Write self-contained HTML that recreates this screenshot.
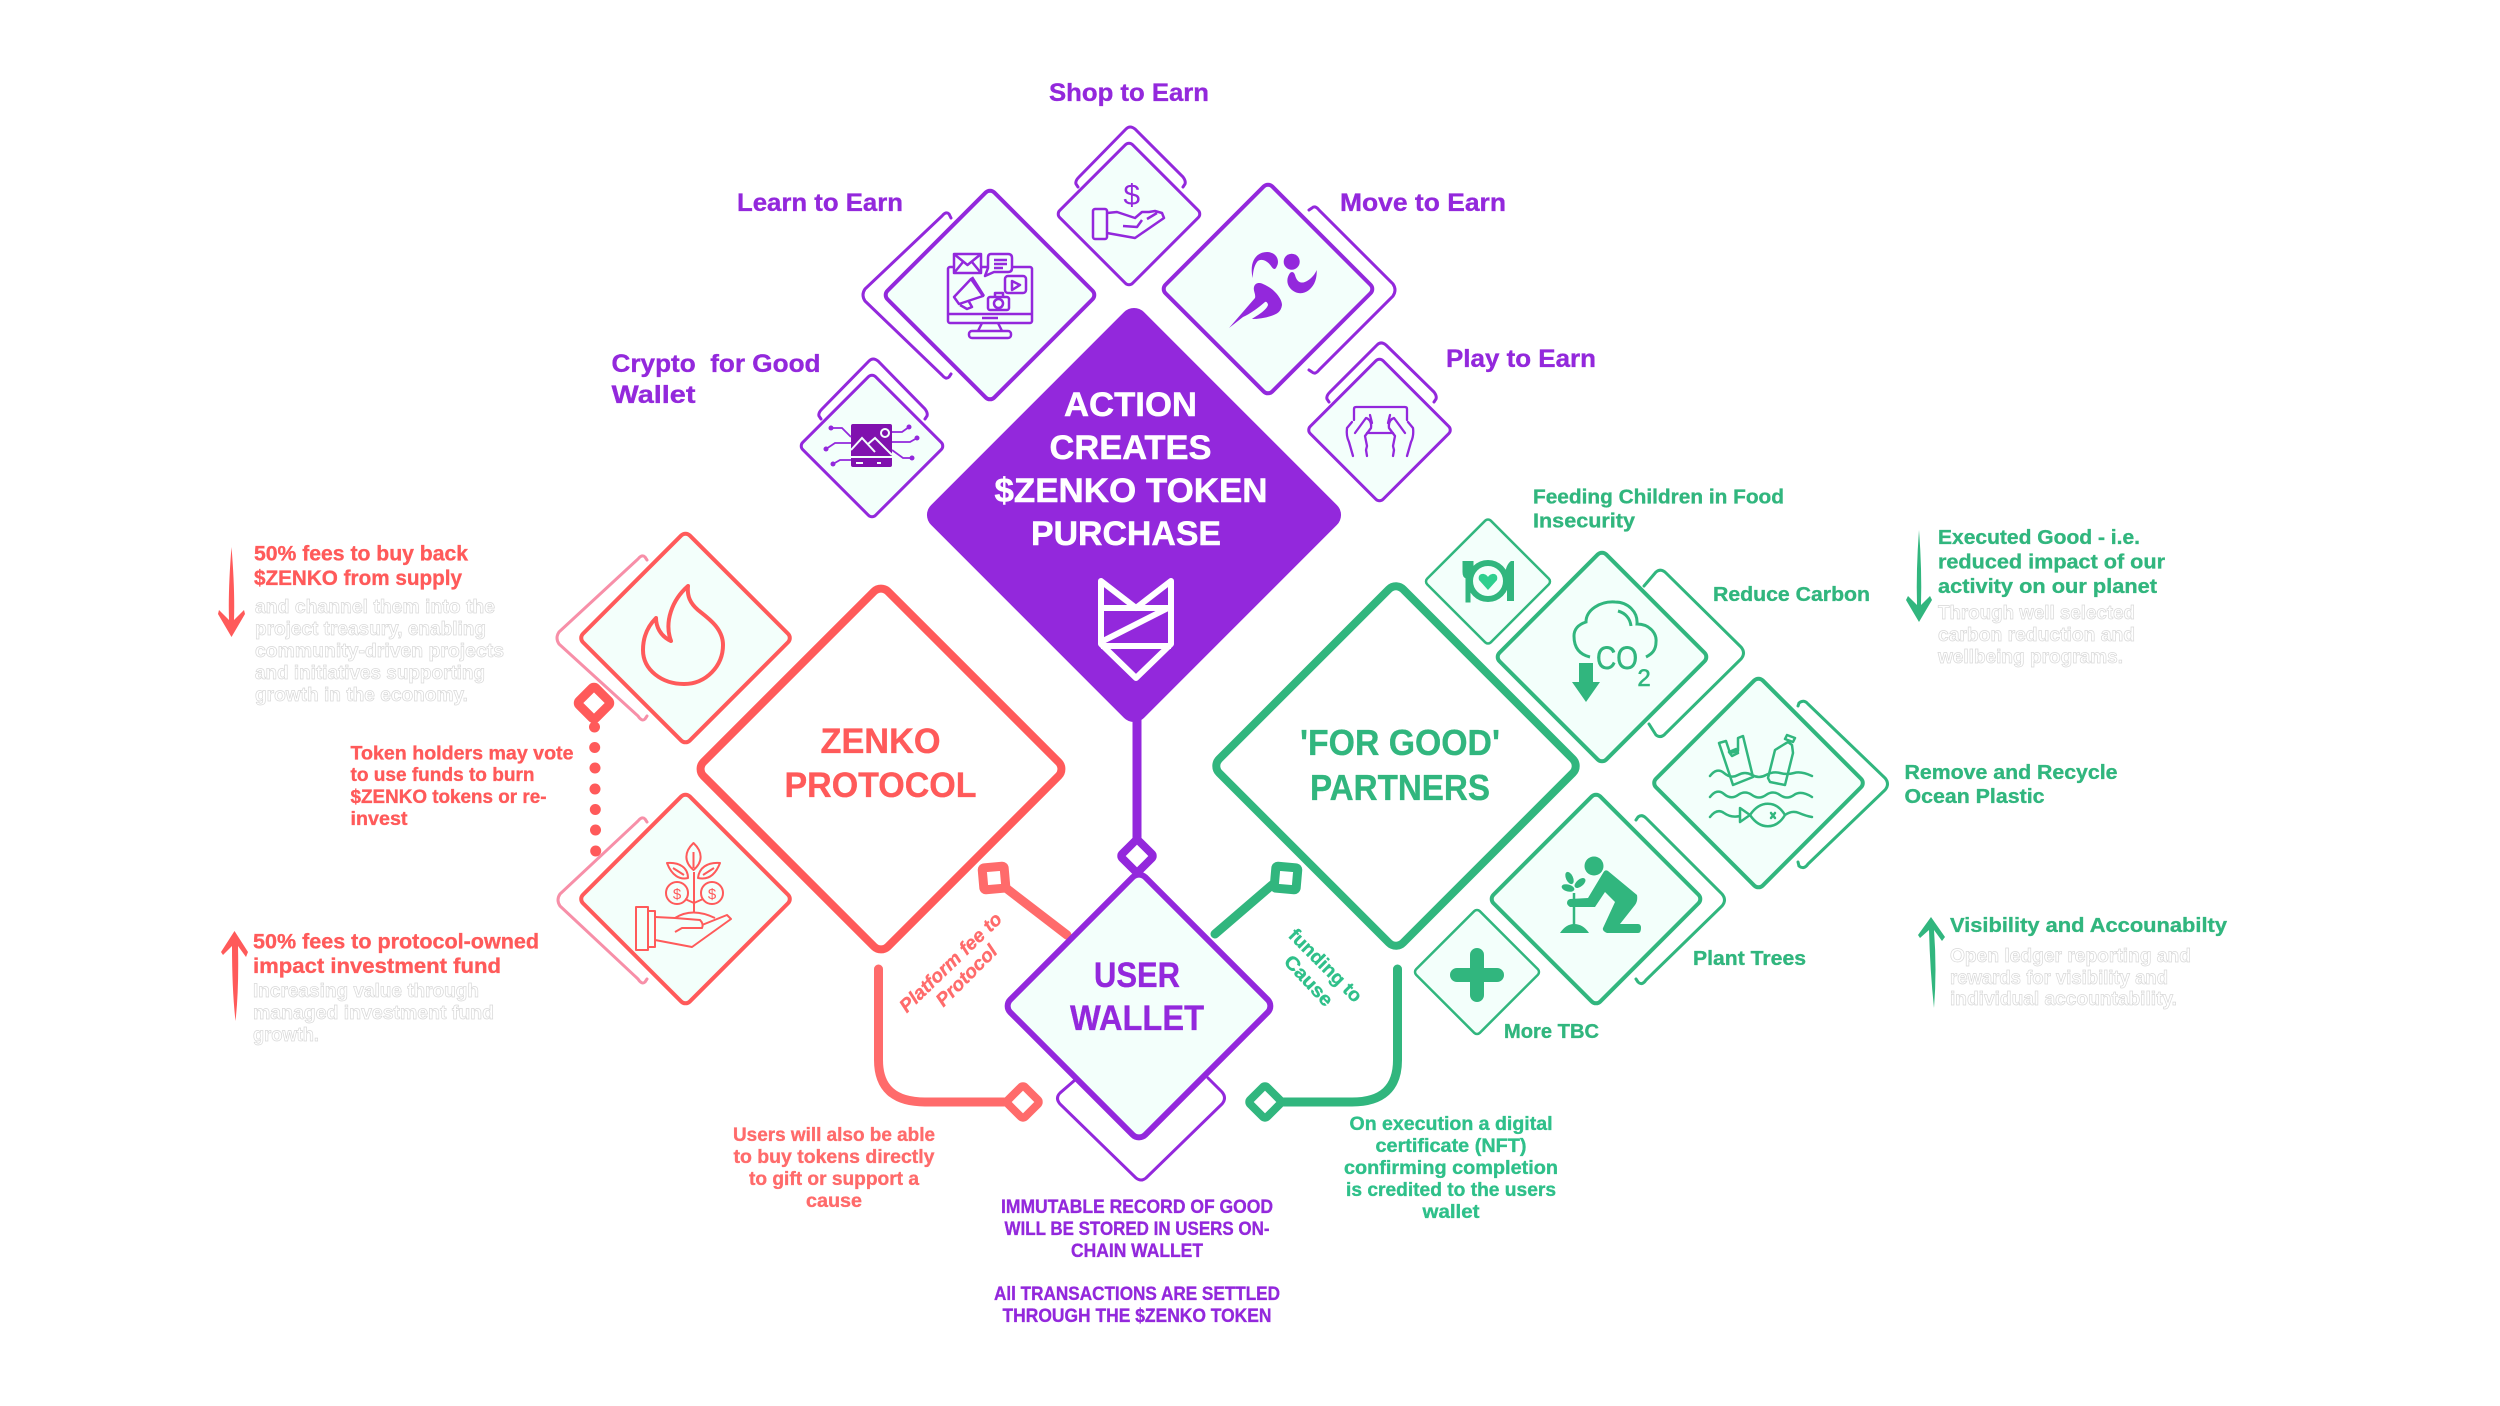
<!DOCTYPE html>
<html><head><meta charset="utf-8"><title>Zenko diagram</title>
<style>
html,body{margin:0;padding:0;background:#fff}
svg{display:block}
text{font-family:"Liberation Sans",sans-serif;font-weight:700}
.p{fill:#9328DC;stroke:#9328DC;stroke-width:.35}.r{fill:#FF5A5A;stroke:#FF5A5A;stroke-width:.35}.r2{fill:#FF6B6B;stroke:#FF6B6B;stroke-width:.35}.g{fill:#31B67E;stroke:#31B67E;stroke-width:.35}.g2{fill:#2FC08A;stroke:#2FC08A;stroke-width:.35}
.w{fill:#fff;stroke:#fff;stroke-width:.5}
.gh{fill:#fff;stroke:#d8d8d8;stroke-width:.7;font-weight:400;font-size:19px}
</style></head><body>
<svg width="2500" height="1406" viewBox="0 0 2500 1406" xmlns="http://www.w3.org/2000/svg">
<rect width="2500" height="1406" fill="#fff"/>

<!-- back outlines -->
<g fill="none" stroke-width="3" stroke-linecap="round">
<g stroke="#9328DC">
<path d="M951 218L949 214Q946 211 942 216L865 289Q861 295 865 301L942 375Q946 380 949 377L951 374"/>
<path d="M1309 210L1312 208Q1315 205 1319 210L1393 284Q1397 290 1393 296L1319 370Q1315 375 1312 372L1309 370"/>
<path d="M1078 187L1076 184Q1075 181 1079 177L1126 129Q1130 125 1135 129L1183 177Q1186 181 1185 184L1183 187"/>
<path d="M821 419L819 416Q818 413 822 409L869 361Q873 357 878 361L925 409Q928 413 927 416L925 419"/>
<path d="M1329 402L1327 399Q1326 396 1330 392L1377 345Q1381 341 1386 345L1434 392Q1437 396 1436 399L1434 402"/>
<path d="M1075 1080L1060 1093Q1055 1098 1060 1104L1136 1178Q1141 1182 1146 1178L1222 1104Q1227 1098 1222 1092L1208 1078"/>
</g>
<g stroke="#F78FA8">
<path d="M647 560L645 557Q642 554 638 559L559 632Q555 638 559 644L638 716Q642 722 645 719L647 716"/>
<path d="M647 822L645 819Q642 816 638 821L560 894Q556 900 560 906L638 979Q642 985 645 982L647 979"/>
</g>
<g stroke="#31B67E">
<path d="M1644 586L1656 572Q1661 568 1666 573L1741 647Q1746 653 1741 659L1666 733Q1661 739 1656 735L1649 724"/>
<path d="M1798 706L1799 703Q1804 699 1808 704L1885 778Q1890 784 1885 790L1808 864Q1804 870 1799 866L1798 862"/>
<path d="M1636 820L1638 817Q1642 814 1646 818L1722 894Q1727 900 1722 906L1646 980Q1642 986 1638 982L1636 979"/>
</g>
</g>

<!-- main diamond -->
<rect x="-150.500" y="-150.500" width="301" height="301" rx="14" transform="translate(1134 515) rotate(45)" fill="#9328DC"/>

<!-- connectors -->
<g fill="none" stroke-linecap="round">
<path d="M1137 715V880" stroke="#9328DC" stroke-width="9"/>
<path d="M1002 885L1067 935" stroke="#FF6B6B" stroke-width="9"/>
<path d="M1215 934L1272 885" stroke="#31B67E" stroke-width="9"/>
<path d="M878.500 969V1060Q878.500 1102 925 1102H1012" stroke="#FF6B6B" stroke-width="9"/>
<path d="M1397.500 969V1060Q1397.500 1102 1352 1102H1280" stroke="#31B67E" stroke-width="9"/>
</g>

<!-- big diamonds -->
<rect x="-130.500" y="-130.500" width="261" height="261" rx="10" transform="translate(881 769) rotate(45)" fill="#fff" stroke="#FF5A5A" stroke-width="8"/>
<rect x="-130" y="-130" width="260" height="260" rx="10" transform="translate(1396 766) rotate(45)" fill="#fff" stroke="#31B67E" stroke-width="8"/>
<rect x="-95.500" y="-95.500" width="191" height="191" rx="9" transform="translate(1139 1006) rotate(45)" fill="#F3FFFB" stroke="#9328DC" stroke-width="6"/>

<!-- icon diamonds -->
<g fill="#F3FFFB" stroke-width="4">
<g stroke="#9328DC">
<rect x="-75.500" y="-75.500" width="151" height="151" rx="6" transform="translate(990 295) rotate(45)"/>
<rect x="-75.500" y="-75.500" width="151" height="151" rx="6" transform="translate(1268 289) rotate(45)"/>
<rect x="-51.500" y="-51.500" width="103" height="103" rx="5" transform="translate(1129 214) rotate(45)" stroke-width="3"/>
<rect x="-51.500" y="-51.500" width="103" height="103" rx="5" transform="translate(872 446) rotate(45)" stroke-width="3"/>
<rect x="-51.500" y="-51.500" width="103" height="103" rx="5" transform="translate(1379.500 430) rotate(45)" stroke-width="3"/>
</g>
<g stroke="#FF5A5A">
<rect x="-75.500" y="-75.500" width="151" height="151" rx="6" transform="translate(685.500 638) rotate(45)"/>
<rect x="-75.500" y="-75.500" width="151" height="151" rx="6" transform="translate(685.500 899) rotate(45)"/>
</g>
<g stroke="#31B67E">
<rect x="-75.500" y="-75.500" width="151" height="151" rx="6" transform="translate(1602 657) rotate(45)"/>
<rect x="-75.500" y="-75.500" width="151" height="151" rx="6" transform="translate(1758.500 783) rotate(45)"/>
<rect x="-75.500" y="-75.500" width="151" height="151" rx="6" transform="translate(1596 899) rotate(45)"/>
<rect x="-45" y="-45" width="90" height="90" rx="4" transform="translate(1488 581.500) rotate(45)" stroke-width="2.500"/>
<rect x="-45" y="-45" width="90" height="90" rx="4" transform="translate(1477 972) rotate(45)" stroke-width="2.500"/>
</g>
</g>

<!-- markers -->
<g>
<rect x="-12" y="-12" width="24" height="24" rx="3" transform="translate(1137 856) rotate(45)" fill="#fff" stroke="#9328DC" stroke-width="8"/>
<rect x="-12" y="-12" width="24" height="24" rx="3" transform="translate(1023 1102) rotate(45)" fill="#fff" stroke="#FF6B6B" stroke-width="8"/>
<rect x="-12" y="-12" width="24" height="24" rx="3" transform="translate(1265 1102) rotate(45)" fill="#fff" stroke="#31B67E" stroke-width="8"/>
<rect x="-12" y="-12" width="24" height="24" rx="3" transform="translate(594 703) rotate(45)" fill="#fff" stroke="#FF5A5A" stroke-width="9"/>
<rect x="-11" y="-11" width="22" height="22" rx="2" transform="translate(994 878) rotate(-5)" fill="#fff" stroke="#FF6B6B" stroke-width="9"/>
<rect x="-11" y="-11" width="22" height="22" rx="2" transform="translate(1286 878) rotate(5)" fill="#fff" stroke="#31B67E" stroke-width="9"/>
</g>
<g fill="#FF5A5A">
<circle cx="594.500" cy="727" r="5.500"/><circle cx="594.700" cy="747.500" r="5.500"/><circle cx="595" cy="768" r="5.500"/><circle cx="595" cy="789" r="5.500"/><circle cx="595.300" cy="809.500" r="5.500"/><circle cx="595.500" cy="830" r="5.500"/><circle cx="595.700" cy="851" r="5.500"/>
</g>

<!-- side arrows -->
<path d="M231.500 547Q228 590 229 620L219 610 218 614 231.500 637 245 614 244 610 234 620Q235 590 231.500 547Z" fill="#FF5A5A"/>
<path d="M234.500 931L221 952 223 955 232 946Q232 990 235.500 1021Q239 990 238 946L246 957 248 952Z" fill="#FF5A5A"/>
<path d="M1925 530Q1922 570 1923 605L1914 596 1912 600 1925 622 1938 600 1936 596 1927 605Q1928 570 1925 530Z" fill="#31B67E" transform="translate(-6 0)"/>
<path d="M1931 917L1918 935 1920 938 1929 930Q1930 970 1934 1008Q1937 970 1934 930L1942 941 1945 937Z" fill="#31B67E"/>

<!-- logo -->
<g fill="none" stroke="#fff" stroke-width="6" stroke-linejoin="round">
<path d="M1101 581L1136 608 1171 581V644L1136 678 1101 644Z"/>
<path d="M1101 608H1171M1101 646H1171M1103 641L1168 608"/>
</g>

<!-- Learn -->
<g fill="none" stroke="#9328DC" stroke-width="2.500" stroke-linejoin="round">
<rect x="948" y="267" width="84" height="56" rx="2"/><path d="M948 314H1032M982 318H998M982 323L978 331M998 323L1002 331"/><rect x="969" y="331" width="42" height="7" rx="3"/>
<rect x="954" y="254" width="27" height="19" fill="#F3FFFB"/><path d="M954 254L967.500 265 981 254M954 273L963 262M981 273L972 262"/>
<path d="M991 254H1008Q1012 254 1012 258V268Q1012 272 1008 272H994L985 276 988 268V258Q988 254 991 254Z" fill="#F3FFFB"/><path d="M994 260H1007M994 264H1007M994 268H1003"/>
<rect x="1005" y="276" width="21" height="17" rx="3"/><path d="M1012 281L1020 285 1012 290Z"/>
<path d="M971 279L954 297 959 304 983 296Z"/><path d="M972 277L984 296M960 305L967 309 972 307 968 300"/>
<rect x="988" y="297" width="21" height="13" rx="2"/><circle cx="998.500" cy="303.500" r="4.500"/><path d="M995 297V293H1003V297"/>
</g>
<!-- Move runner -->
<g fill="#9328DC">
<circle cx="1291.700" cy="261.700" r="8"/>
<path d="M1252.700 278C1249 262 1256 252 1267 252C1276 252 1280 260 1277 266C1275 271 1273 269 1271 266C1267 260 1260 258 1257 262C1254 266 1253 272 1252.700 278Z"/>
<path d="M1290 273C1292 271 1294 272 1295 275C1297 283 1302 284 1307 281C1312 278 1315 274 1316.700 270C1317 278 1315 285 1309 290C1303 295 1295 294 1290 288C1286 283 1287 277 1290 273Z"/>
<path d="M1229 328L1255 298C1256 294 1253 291 1254 287C1255 283 1259 282 1263 284C1268 286 1272 289 1275 292C1279 296 1282 301 1282 305C1281 312 1277 314 1271 316C1265 318 1258 319 1252 319C1256 316 1266 311 1268 305C1268 303 1266 301 1265 302C1258 308 1250 314 1243 317Z"/>
</g>
<!-- Shop hand -->
<text x="1131.700" y="205" text-anchor="middle" style="font-size:30px;font-weight:400" fill="#9328DC">$</text>
<g fill="none" stroke="#9328DC" stroke-width="2.500" stroke-linejoin="round">
<rect x="1093" y="209" width="14" height="30" rx="2"/>
<path d="M1107 213L1117 212 1135 218 1142 212 1149 212 1155 211 1162 213 1164 218 1135 238 1107 233M1123 226L1137 227 1142 220M1147 219L1157 213"/>
</g>
<!-- Crypto -->
<rect x="851" y="424" width="41" height="43" rx="2" fill="#8011AE"/>
<g fill="none" stroke="#F3FFFB" stroke-width="2">
<path d="M851 450L862 438 875 452M868 444L875 438 892 455M851 457H892M856 463H863M877 463H881"/>
<circle cx="885" cy="433" r="4"/>
</g>
<g fill="none" stroke="#9328DC" stroke-width="1.800">
<path d="M851 437L842 428H831M851 443H835L826 449M851 460H840L833 464M892 432H902L909 427M892 442H910L917 438M892 450L903 458H912"/>
</g>
<g fill="#9328DC"><circle cx="831" cy="428" r="2.500"/><circle cx="826" cy="449" r="2.500"/><circle cx="833" cy="464" r="2.500"/><circle cx="909" cy="427" r="2.500"/><circle cx="917" cy="438" r="2.500"/><circle cx="912" cy="458" r="2.500"/></g>
<!-- Play -->
<g fill="none" stroke="#9328DC" stroke-width="2.300" stroke-linecap="round" stroke-linejoin="round">
<path d="M1354 420V409Q1354 407 1356 407H1405Q1407 407 1407 409V420M1367 433H1393"/>
<path d="M1352 422L1347 428Q1346 436 1349 442L1353 456M1355 433L1366 418Q1372 420 1371 428L1365 436 1367 446 1366 450 1367 456M1370 415L1372 423"/>
<path d="M1408 422L1413 428Q1414 436 1411 442L1407 456M1405 433L1394 418Q1388 420 1389 428L1395 436 1393 446 1394 450 1393 456M1390 415L1388 423"/>
</g>
<!-- Flame -->
<path d="M688 586C672 600 664 622 671 641C660 636 656 626 656 618C648 626 643 636 643 650C643 670 662 684 684 684C706 684 723 666 723 645C723 628 708 618 698 610C690 603 687 596 688 586Z" fill="none" stroke="#FF5A5A" stroke-width="4" stroke-linejoin="round"/>
<!-- Plant hand -->
<g fill="none" stroke="#FF5A5A" stroke-width="2" stroke-linejoin="round">
<rect x="636" y="907" width="12" height="43"/><rect x="648" y="911" width="7" height="36"/>
<path d="M693.500 843C684 852 684 862 693.500 870C703 862 703 852 693.500 843ZM693.500 852V868M667 863C672 876 680 880 688 878C688 868 680 862 667 863ZM720 863C715 876 707 880 698 878C699 868 707 862 720 863ZM673 868L684 875M714 868L703 875"/>
<path d="M694 872V912M685 899L694 903 703 899"/>
<circle cx="677" cy="893" r="11"/><circle cx="712" cy="893" r="11"/>
<path d="M655 917L675 918 700 920Q704 924 702 928L682 928 675 932M702 925L727 915 731 919 692 947 655 940M675 918Q692 907 715 918"/>
</g>
<text x="677" y="899" text-anchor="middle" style="font-size:15px;font-weight:400" fill="#FF5A5A">$</text>
<text x="712" y="899" text-anchor="middle" style="font-size:15px;font-weight:400" fill="#FF5A5A">$</text>
<!-- Food -->
<circle cx="1488" cy="581" r="18" fill="none" stroke="#31B67E" stroke-width="6"/>
<circle cx="1488" cy="581" r="11" fill="#F3FFFB"/>
<path d="M1488 590L1479 580C1477 573 1485 572 1488 577C1491 572 1499 573 1497 580Z" fill="#2FCF8F"/>
<path d="M1463 561V572Q1463 577 1466 578V602H1470V578Q1473 577 1473 572V561M1467 561V572" fill="#31B67E" stroke="#31B67E" stroke-width="1"/>
<path d="M1511 561C1504 566 1504 580 1507 586V601H1514V561Z" fill="#31B67E"/>
<!-- CO2 -->
<path d="M1590 657C1577 654 1574 645 1574 636C1574 628 1580 624 1586 622C1586 610 1600 601 1615 602C1628 602 1638 612 1637 624C1650 624 1657 634 1656 642C1656 650 1652 654 1646 657M1618 611C1625 613 1630 618 1631 626" fill="none" stroke="#31B67E" stroke-width="3"/>
<text x="1617" y="669" text-anchor="middle" textLength="42" lengthAdjust="spacingAndGlyphs" style="font-size:32px;font-weight:400" fill="#31B67E" stroke="#31B67E" stroke-width=".6">CO</text>
<text x="1644" y="686" text-anchor="middle" style="font-size:24px;font-weight:400" fill="#31B67E" stroke="#31B67E" stroke-width=".6">2</text>
<path d="M1579 663H1593V682H1600L1586 702 1572 682H1579Z" fill="#31B67E"/>
<!-- Ocean -->
<g fill="none" stroke="#31B67E" stroke-width="2.500" stroke-linejoin="round" stroke-linecap="round">
<path d="M1719 743L1726 741 1730 753 1738 751 1738 738 1743 736 1753 777 1733 785Z"/>
<path d="M1729 752L1736 749 1738 753 1732 756Z"/>
<path d="M1787 735L1795 738 1793 742 1785 739ZM1788 742L1792 745 1793 753 1785 785 1770 782 1768 778 1775 750 1783 745Z"/>
<path d="M1710 776Q1717 767 1724 773T1738 775T1752 775T1766 775T1780 773T1794 773T1812 776"/>
<path d="M1710 797Q1717 788 1724 794T1738 795T1752 795T1766 795T1780 795T1794 795T1812 797"/>
<path d="M1710 817Q1717 808 1724 813T1740 816M1740 808L1750 815 1740 822ZM1750 815C1760 800 1776 800 1785 815C1776 830 1760 830 1750 815ZM1785 815Q1792 810 1799 813T1812 817"/>
<path d="M1771 813L1775 818M1775 813L1771 818"/>
</g>
<!-- Tree person -->
<g fill="#31B67E">
<circle cx="1594" cy="866" r="9.500"/>
<path d="M1608 871L1637 895Q1638 901 1635 905L1620 924H1638Q1641 924 1641 928 1641 933 1638 933H1607Q1602 931 1603 928L1615 902 1605 892 1595 907H1570Q1567 905 1567 903 1567 900 1570 899L1588 898 1603 873Q1605 869 1608 871Z"/>
<path d="M1560 933Q1566 924 1574 924 1583 924 1589 933Z"/>
<ellipse cx="1569.500" cy="878" rx="3.500" ry="6.500" transform="rotate(-25 1569.500 878)"/><ellipse cx="1568" cy="888" rx="3.500" ry="6.500" transform="rotate(-75 1568 888)"/><ellipse cx="1580" cy="883" rx="3.500" ry="6.500" transform="rotate(50 1580 883)"/>
</g>
<path d="M1574 893V926" stroke="#31B67E" stroke-width="2.500"/>
<!-- plus -->
<path d="M1477 955V995M1457 975H1497" stroke="#31B67E" stroke-width="14" stroke-linecap="round"/>

<!-- Titles -->
<g font-size="25" class="p">
<text x="1049" y="101" textLength="160" lengthAdjust="spacingAndGlyphs">Shop to Earn</text>
<text x="737" y="211" textLength="166" lengthAdjust="spacingAndGlyphs">Learn to Earn</text>
<text x="1340" y="211" textLength="166" lengthAdjust="spacingAndGlyphs">Move to Earn</text>
<text x="1446" y="367" textLength="150" lengthAdjust="spacingAndGlyphs">Play to Earn</text>
<text x="611.500" y="372" textLength="209" lengthAdjust="spacingAndGlyphs" xml:space="preserve">Crypto  for Good</text>
<text x="611.500" y="403" textLength="84" lengthAdjust="spacingAndGlyphs">Wallet</text>
</g>
<g font-size="34" class="w">
<text x="1130.500" y="416" text-anchor="middle" textLength="133" lengthAdjust="spacingAndGlyphs">ACTION</text>
<text x="1130.500" y="459" text-anchor="middle" textLength="162" lengthAdjust="spacingAndGlyphs">CREATES</text>
<text x="1131" y="502" text-anchor="middle" textLength="273" lengthAdjust="spacingAndGlyphs">$ZENKO TOKEN</text>
<text x="1126" y="545" text-anchor="middle" textLength="190" lengthAdjust="spacingAndGlyphs">PURCHASE</text>
</g>
<g font-size="35" class="r">
<text x="880.500" y="753" text-anchor="middle" textLength="120" lengthAdjust="spacingAndGlyphs">ZENKO</text>
<text x="880.500" y="797" text-anchor="middle" textLength="192" lengthAdjust="spacingAndGlyphs">PROTOCOL</text>
</g>
<g font-size="36" class="g">
<text x="1400" y="755" text-anchor="middle" textLength="200" lengthAdjust="spacingAndGlyphs">'FOR GOOD'</text>
<text x="1400" y="800" text-anchor="middle" textLength="180" lengthAdjust="spacingAndGlyphs">PARTNERS</text>
</g>
<g font-size="35" class="p">
<text x="1137" y="987" text-anchor="middle" textLength="86" lengthAdjust="spacingAndGlyphs">USER</text>
<text x="1137" y="1030" text-anchor="middle" textLength="134" lengthAdjust="spacingAndGlyphs">WALLET</text>
</g>

<!-- red side text -->
<g font-size="21" class="r">
<text x="254" y="560.500" textLength="214" lengthAdjust="spacingAndGlyphs">50% fees to buy back</text>
<text x="254" y="585" textLength="208" lengthAdjust="spacingAndGlyphs">$ZENKO from supply</text>
<text x="253" y="948.500" textLength="286" lengthAdjust="spacingAndGlyphs">50% fees to protocol-owned</text>
<text x="253" y="973" textLength="248" lengthAdjust="spacingAndGlyphs">impact investment fund</text>
</g>
<g font-size="19" class="r">
<text x="350.500" y="759.500" textLength="223" lengthAdjust="spacingAndGlyphs">Token holders may vote</text>
<text x="350.500" y="781" textLength="184" lengthAdjust="spacingAndGlyphs">to use funds to burn</text>
<text x="350.500" y="803" textLength="196" lengthAdjust="spacingAndGlyphs">$ZENKO tokens or re-</text>
<text x="350.500" y="825" textLength="57" lengthAdjust="spacingAndGlyphs">invest</text>
</g>
<g class="gh">
<text x="255" y="613" textLength="240" lengthAdjust="spacingAndGlyphs">and channel them into the</text>
<text x="255" y="635" textLength="231" lengthAdjust="spacingAndGlyphs">project treasury, enabling</text>
<text x="255" y="657" textLength="249" lengthAdjust="spacingAndGlyphs">community-driven projects</text>
<text x="255" y="679" textLength="230" lengthAdjust="spacingAndGlyphs">and initiatives supporting</text>
<text x="255" y="701" textLength="213" lengthAdjust="spacingAndGlyphs">growth in the economy.</text>
<text x="253" y="997" textLength="226" lengthAdjust="spacingAndGlyphs">Increasing value through</text>
<text x="253" y="1019" textLength="241" lengthAdjust="spacingAndGlyphs">managed investment fund</text>
<text x="253" y="1041" textLength="66" lengthAdjust="spacingAndGlyphs">growth.</text>
<text x="1938" y="619" textLength="197" lengthAdjust="spacingAndGlyphs">Through well selected</text>
<text x="1938" y="641" textLength="197" lengthAdjust="spacingAndGlyphs">carbon reduction and</text>
<text x="1938" y="663" textLength="185" lengthAdjust="spacingAndGlyphs">wellbeing programs.</text>
<text x="1950" y="962" textLength="241" lengthAdjust="spacingAndGlyphs">Open ledger reporting and</text>
<text x="1950" y="984" textLength="218" lengthAdjust="spacingAndGlyphs">rewards for visibility and</text>
<text x="1950" y="1005" textLength="227" lengthAdjust="spacingAndGlyphs">individual accountability.</text>
</g>

<!-- green text -->
<g font-size="20.500" class="g">
<text x="1533" y="503.500" textLength="251" lengthAdjust="spacingAndGlyphs">Feeding Children in Food</text>
<text x="1533" y="527.500" textLength="102" lengthAdjust="spacingAndGlyphs">Insecurity</text>
<text x="1713" y="601" textLength="157" lengthAdjust="spacingAndGlyphs">Reduce Carbon</text>
<text x="1938" y="544" textLength="202" lengthAdjust="spacingAndGlyphs">Executed Good - i.e.</text>
<text x="1938" y="568.500" textLength="227" lengthAdjust="spacingAndGlyphs">reduced impact of our</text>
<text x="1938" y="593" textLength="219" lengthAdjust="spacingAndGlyphs">activity on our planet</text>
<text x="1904.500" y="779" textLength="213" lengthAdjust="spacingAndGlyphs">Remove and Recycle</text>
<text x="1904.500" y="803" textLength="140" lengthAdjust="spacingAndGlyphs">Ocean Plastic</text>
<text x="1693" y="965" textLength="113" lengthAdjust="spacingAndGlyphs">Plant Trees</text>
<text x="1504" y="1038" textLength="95" lengthAdjust="spacingAndGlyphs">More TBC</text>
<text x="1950" y="932" textLength="277" lengthAdjust="spacingAndGlyphs">Visibility and Accounabilty</text>
</g>

<!-- rotated -->
<g font-size="19" class="r2" font-style="italic">
<text transform="translate(955 967) rotate(-44)" text-anchor="middle" textLength="134" lengthAdjust="spacingAndGlyphs">Platform fee to</text>
<text transform="translate(971 980) rotate(-45)" text-anchor="middle" textLength="78" lengthAdjust="spacingAndGlyphs">Protocol</text>
</g>
<g font-size="19" class="g2">
<text transform="translate(1321 970) rotate(45)" text-anchor="middle" textLength="95" lengthAdjust="spacingAndGlyphs">funding to</text>
<text transform="translate(1304 985) rotate(47)" text-anchor="middle" textLength="62" lengthAdjust="spacingAndGlyphs">Cause</text>
</g>

<!-- bottom text -->
<g font-size="19" class="r2" text-anchor="middle">
<text x="834" y="1141" textLength="202" lengthAdjust="spacingAndGlyphs">Users will also be able</text>
<text x="834" y="1163" textLength="201" lengthAdjust="spacingAndGlyphs">to buy tokens directly</text>
<text x="834" y="1185" textLength="170" lengthAdjust="spacingAndGlyphs">to gift or support a</text>
<text x="834" y="1207" textLength="56" lengthAdjust="spacingAndGlyphs">cause</text>
</g>
<g font-size="19" class="p" text-anchor="middle">
<text x="1137" y="1213" textLength="272" lengthAdjust="spacingAndGlyphs">IMMUTABLE RECORD OF GOOD</text>
<text x="1137" y="1235" textLength="265" lengthAdjust="spacingAndGlyphs">WILL BE STORED IN USERS ON-</text>
<text x="1137" y="1257" textLength="132" lengthAdjust="spacingAndGlyphs">CHAIN WALLET</text>
<text x="1137" y="1300" textLength="286" lengthAdjust="spacingAndGlyphs">All TRANSACTIONS ARE SETTLED</text>
<text x="1137" y="1322" textLength="269" lengthAdjust="spacingAndGlyphs">THROUGH THE $ZENKO TOKEN</text>
</g>
<g font-size="19" class="g2" text-anchor="middle">
<text x="1456" y="1130" textLength="203" lengthAdjust="spacingAndGlyphs" transform="translate(-5 0)">On execution a digital</text>
<text x="1451" y="1152" textLength="151" lengthAdjust="spacingAndGlyphs">certificate (NFT)</text>
<text x="1451" y="1174" textLength="214" lengthAdjust="spacingAndGlyphs">confirming completion</text>
<text x="1451" y="1196" textLength="210" lengthAdjust="spacingAndGlyphs">is credited to the users</text>
<text x="1451" y="1218" textLength="57" lengthAdjust="spacingAndGlyphs">wallet</text>
</g>
</svg>
</body></html>
